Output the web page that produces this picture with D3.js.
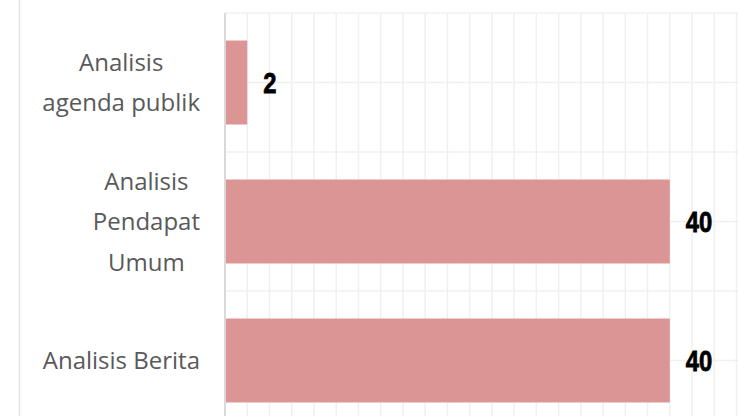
<!DOCTYPE html>
<html>
<head>
<meta charset="utf-8">
<script src="https://cdn.jsdelivr.net/npm/d3@7"></script>
<style>
  html, body { margin: 0; padding: 0; background: #fff; }
  svg { display: block; }
</style>
</head>
<body>
<svg id="chart" width="738" height="416"></svg>
<script>
const categories = ["Analisis\nagenda publik", "Analisis\nPendapat\nUmum", "Analisis Berita"];
const values = [2, 40, 40];
const xTicks = [0, 2, 4, 6, 8, 10, 12, 14, 16, 18, 20, 22, 24, 26, 28, 30, 32, 34, 36, 38, 40, 42, 44, 46, 48, 50];

const svg = d3.select("#chart");
const W = 738, H = 416;
const plotLeft = 225, plotTop = 13, rowStep = 139;

const x = d3.scaleLinear().domain([0, 50]).range([plotLeft, plotLeft + 50 * 11.12]);
const y = d3.scaleBand().domain(categories)
  .range([plotTop, plotTop + rowStep * categories.length])
  .paddingInner(0.396).paddingOuter(0.198);

// outer left frame line
svg.append("line").attr("x1", 19.5).attr("x2", 19.5).attr("y1", 0).attr("y2", H)
  .attr("stroke", "#e2e2e2").attr("stroke-width", 1.5);

const grid = svg.append("g");
// vertical gridlines
grid.selectAll("line.v").data(xTicks.filter(d => d > 0)).join("line")
  .attr("class", "v")
  .attr("x1", d => x(d)).attr("x2", d => x(d))
  .attr("y1", plotTop).attr("y2", H + 20)
  .attr("stroke", "#f0f0f0").attr("stroke-width", 1.5);
// horizontal gridlines at band edges and centers
const hLines = [];
categories.forEach(c => {
  const b0 = y(c) - y.step() * y.paddingInner() / 2;
  hLines.push(b0, b0 + y.step() / 2);
});
grid.selectAll("line.h").data(hLines).join("line")
  .attr("class", "h")
  .attr("x1", plotLeft).attr("x2", W + 10)
  .attr("y1", d => d).attr("y2", d => d)
  .attr("stroke", "#f0f0f0").attr("stroke-width", 1.5);

// bars
svg.selectAll("rect.bar").data(values).join("rect")
  .attr("class", "bar")
  .attr("x", x(0))
  .attr("y", (d, i) => y(categories[i]))
  .attr("width", d => x(d) - x(0))
  .attr("height", y.bandwidth())
  .attr("fill", "#da9594");

// axis line
svg.append("line").attr("x1", x(0)).attr("x2", x(0)).attr("y1", plotTop).attr("y2", H + 20)
  .attr("stroke", "#d9d9d9").attr("stroke-width", 2);

// value labels (condensed bold look)
svg.selectAll("text.val").data(values).join("text")
  .attr("class", "val")
  .attr("transform", (d, i) => `translate(${x(d) + 16},${y(categories[i]) + y.bandwidth() / 2}) scale(0.82,1)`)
  .attr("dy", "0.36em")
  .attr("font-family", "'Liberation Sans', Arial, sans-serif")
  .attr("font-weight", "bold")
  .attr("font-size", 29)
  .attr("stroke", "#000")
  .attr("stroke-width", 0.8)
  .attr("fill", "#000")
  .text(d => d);

// category labels (right-aligned block, lines centered within block)
const labelRight = 200;
const lineH = 40.5;
categories.forEach(c => {
  const lines = c.split("\n");
  const g = svg.append("g");
  const cy = y(c) + y.bandwidth() / 2;
  const texts = lines.map((ln, i) => g.append("text")
    .attr("y", cy + (i - (lines.length - 1) / 2) * lineH)
    .attr("dy", "0.36em")
    .attr("text-anchor", "middle")
    .attr("font-family", "'Open Sans', 'Noto Sans', sans-serif")
    .attr("font-size", 24)
    .attr("fill", "#595959")
    .text(ln));
  const maxW = d3.max(texts, t => t.node().getComputedTextLength());
  texts.forEach(t => t.attr("x", labelRight - maxW / 2));
});
</script>
</body>
</html>
